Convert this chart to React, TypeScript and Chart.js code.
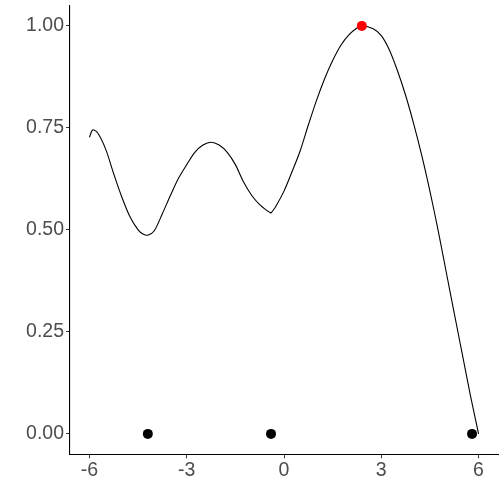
import React, { useEffect, useRef } from "react";
import { Chart, registerables } from "chart.js";

Chart.register(...registerables);

const curveX = [-6.0, -5.9, -5.75, -5.5, -5.25, -5.0, -4.75, -4.5, -4.35, -4.2, -4.0, -3.75, -3.5, -3.25, -3.0, -2.75, -2.5, -2.25, -2.0, -1.75, -1.5, -1.25, -1.0, -0.75, -0.5, -0.4, -0.25, 0.0, 0.25, 0.5, 0.75, 1.0, 1.25, 1.5, 1.75, 2.0, 2.25, 2.4, 2.75, 3.0, 3.25, 3.5, 3.75, 4.0, 4.25, 4.5, 4.75, 5.0, 5.25, 5.5, 5.75, 6.0];
const curveY = [0.727, 0.745, 0.738, 0.698, 0.637, 0.58, 0.532, 0.5, 0.49, 0.487, 0.498, 0.54, 0.585, 0.627, 0.66, 0.69, 0.708, 0.715, 0.708, 0.69, 0.66, 0.618, 0.585, 0.562, 0.546, 0.541, 0.558, 0.595, 0.643, 0.694, 0.757, 0.817, 0.87, 0.915, 0.952, 0.978, 0.995, 1.0, 0.993, 0.976, 0.941, 0.89, 0.83, 0.76, 0.682, 0.595, 0.5, 0.398, 0.296, 0.195, 0.094, 0.0];
const kinkX = -0.4;

const obsX = [-4.2, -0.4, 5.8];
const obsY = [0, 0, 0];
const bestX = [2.4];
const bestY = [1.0];

const xTicks = [-6, -3, 0, 3, 6];
const yTicks = [0, 0.25, 0.5, 0.75, 1.0];

export default function App() {
  const ref = useRef<HTMLCanvasElement | null>(null);
  useEffect(() => {
    if (!ref.current) return;
    const font = { family: "'Liberation Sans', Arial, sans-serif", size: 19.5 };
    const pts = curveX.map((x, i) => ({ x, y: curveY[i] }));
    const k = curveX.indexOf(kinkX);
    const lineStyle = {
      type: "line" as const,
      borderColor: "#000000",
      borderWidth: 1.1,
      pointRadius: 0,
      fill: false,
      tension: 0.3,
      order: 2,
    };
    const chart = new Chart(ref.current, {
      type: "scatter",
      data: {
        datasets: [
          { ...lineStyle, data: pts.slice(0, k + 1) },
          { ...lineStyle, data: pts.slice(k) },
          {
            data: obsX.map((x, i) => ({ x, y: obsY[i] })),
            backgroundColor: "#000000",
            borderWidth: 0,
            pointRadius: 5,
            order: 1,
          },
          {
            data: bestX.map((x, i) => ({ x, y: bestY[i] })),
            backgroundColor: "#FF0000",
            borderWidth: 0,
            pointRadius: 5,
            order: 0,
          },
        ],
      },
      options: {
        animation: false,
        responsive: false,
        layout: { padding: { left: 0, right: 6, top: 5.5, bottom: 0 } },
        plugins: { legend: { display: false }, tooltip: { enabled: false } },
        scales: {
          x: {
            type: "linear",
            min: -6.6,
            max: 6.6,
            afterBuildTicks: (s: any) => {
              s.ticks = xTicks.map((v) => ({ value: v }));
            },
            afterFit: (s: any) => {
              s.height = 49.7;
              s.paddingLeft = 0;
              s.paddingRight = 0;
            },
            grid: { display: true, drawOnChartArea: false, drawTicks: true, tickLength: 4, color: "#333333", lineWidth: 1 },
            border: { display: true, color: "#000000", width: 1.1 },
            ticks: { color: "#4D4D4D", font, padding: 1, maxRotation: 0, callback: (v: any) => String(v) },
          },
          y: {
            type: "linear",
            min: -0.05,
            max: 1.05,
            afterBuildTicks: (s: any) => {
              s.ticks = yTicks.map((v) => ({ value: v }));
            },
            afterFit: (s: any) => {
              s.width = 70;
              s.paddingTop = 0;
              s.paddingBottom = 0;
            },
            grid: { display: true, drawOnChartArea: false, drawTicks: true, tickLength: 4, color: "#333333", lineWidth: 1 },
            border: { display: true, color: "#000000", width: 1.1 },
            ticks: { color: "#4D4D4D", font, padding: 2, callback: (v: any) => Number(v).toFixed(2) },
          },
        },
      },
    });
    return () => chart.destroy();
  }, []);
  return (
    <div style={{ position: "fixed", left: 0, top: 0, width: 504, height: 504, background: "#fff" }}>
      <canvas ref={ref} width={504} height={504} style={{ width: 504, height: 504 }} />
    </div>
  );
}
